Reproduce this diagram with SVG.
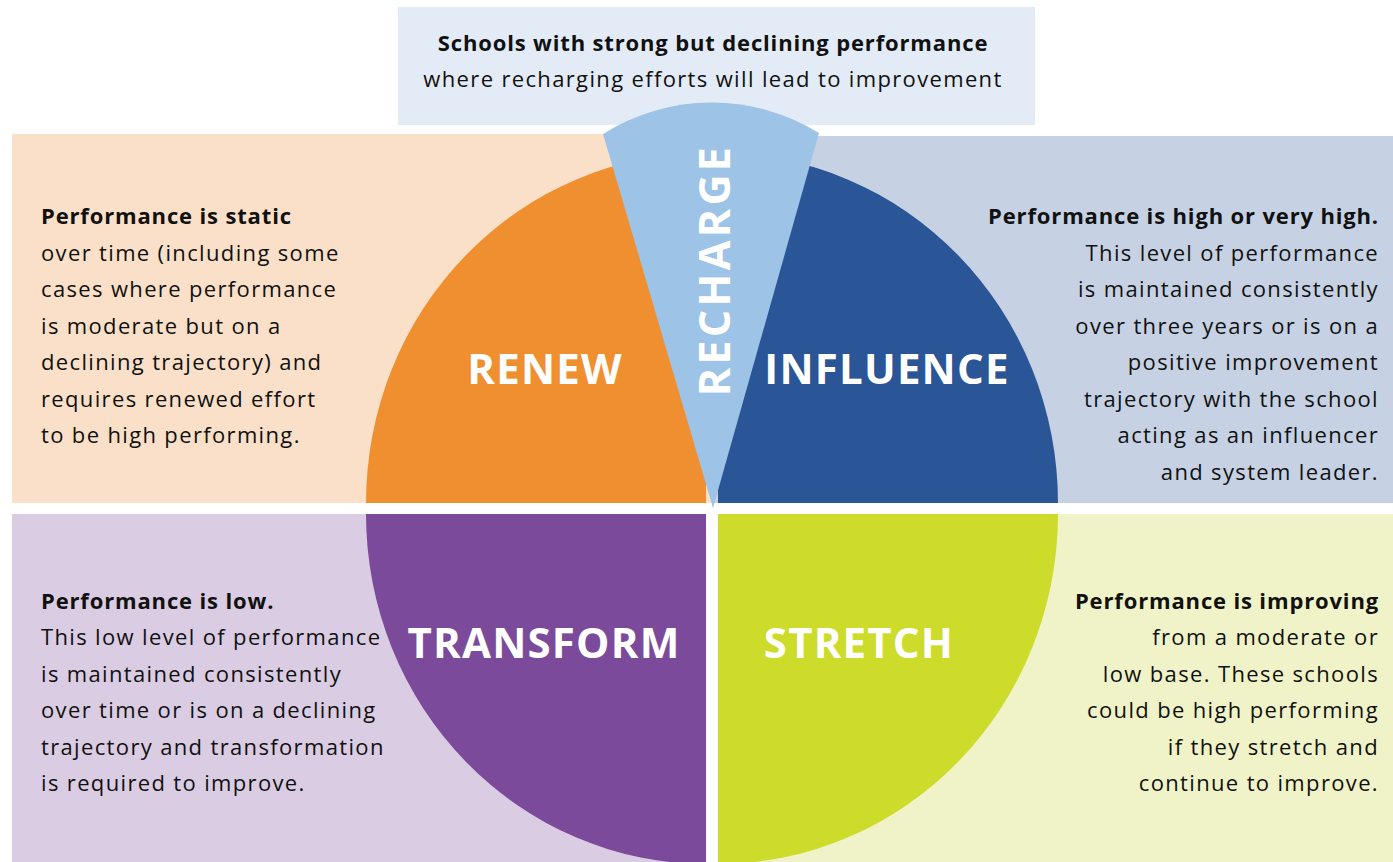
<svg xmlns="http://www.w3.org/2000/svg" width="1393" height="862" viewBox="0 0 1393 862">
<style>
.body{font-family:"Open Sans","Liberation Sans",sans-serif;font-size:22px;fill:#111;letter-spacing:1.35px}
.b{font-weight:700;letter-spacing:0.85px}
.lbl{font-family:"Open Sans","Liberation Sans",sans-serif;font-size:42px;font-weight:700;fill:#fff;text-anchor:middle;letter-spacing:1.2px}
.r{text-anchor:end}
.c{text-anchor:middle}
</style>
<rect width="1393" height="862" fill="#fff"/>
<g id="backgrounds">
<rect x="398" y="7" width="637" height="118" fill="#E3EBF6"/>
<rect x="12" y="134" width="700" height="369" fill="#FAE0C8"/>
<rect x="712" y="136" width="681" height="367" fill="#C6D1E3"/>
<rect x="12" y="514" width="694" height="348" fill="#DACCE3"/>
<rect x="718" y="514" width="675" height="348" fill="#F0F3C8"/>
</g>
<g id="renew">
<path d="M706 503 L366 503 A340 350 0 0 1 706 153 Z" fill="#EF8F30"/>
<text class="lbl" x="545" y="384">RENEW</text>
</g>
<g id="influence">
<path d="M718 503 L718 153 A340 350 0 0 1 1058 503 Z" fill="#2A5597"/>
<text class="lbl" x="887" y="384">INFLUENCE</text>
</g>
<g id="transform">
<path d="M706 514 L706 864 A340 350 0 0 1 366 514 Z" fill="#7B4A9B"/>
<text class="lbl" x="544" y="658">TRANSFORM</text>
</g>
<g id="stretch">
<path d="M718 514 L1058 514 A340 350 0 0 1 718 864 Z" fill="#CDDB2A"/>
<text class="lbl" x="859" y="658">STRETCH</text>
</g>
<g id="recharge">
<path d="M713 508 L603 134 A204 204 0 0 1 819 133 Z" fill="#9DC3E6"/>
<text class="lbl" transform="translate(730 270) rotate(-90)" style="font-size:43px;letter-spacing:3.3px">RECHARGE</text>
</g>
<g id="connectors"></g>
<g id="text-top">
<text class="body b c" x="713" y="51">Schools with strong but declining performance</text>
<text class="body c" x="713" y="87">where recharging efforts will lead to improvement</text>
</g>
<g id="text-renew">
<text class="body b" x="41" y="224">Performance is static</text>
<text class="body" x="41" y="261">over time (including some</text>
<text class="body" x="41" y="297">cases where performance</text>
<text class="body" x="41" y="334">is moderate but on a</text>
<text class="body" x="41" y="370">declining trajectory) and</text>
<text class="body" x="41" y="407">requires renewed effort</text>
<text class="body" x="41" y="443">to be high performing.</text>
</g>
<g id="text-influence">
<text class="body b r" x="1379" y="224">Performance is high or very high.</text>
<text class="body r" x="1379" y="261">This level of performance</text>
<text class="body r" x="1379" y="297">is maintained consistently</text>
<text class="body r" x="1379" y="334">over three years or is on a</text>
<text class="body r" x="1379" y="370">positive improvement</text>
<text class="body r" x="1379" y="407">trajectory with the school</text>
<text class="body r" x="1379" y="443">acting as an influencer</text>
<text class="body r" x="1379" y="480">and system leader.</text>
</g>
<g id="text-transform">
<text class="body b" x="41" y="609">Performance is low.</text>
<text class="body" x="41" y="645">This low level of performance</text>
<text class="body" x="41" y="682">is maintained consistently</text>
<text class="body" x="41" y="718">over time or is on a declining</text>
<text class="body" x="41" y="755">trajectory and transformation</text>
<text class="body" x="41" y="791">is required to improve.</text>
</g>
<g id="text-stretch">
<text class="body b r" x="1379" y="609">Performance is improving</text>
<text class="body r" x="1379" y="645">from a moderate or</text>
<text class="body r" x="1379" y="682">low base. These schools</text>
<text class="body r" x="1379" y="718">could be high performing</text>
<text class="body r" x="1379" y="755">if they stretch and</text>
<text class="body r" x="1379" y="791">continue to improve.</text>
</g>
</svg>
